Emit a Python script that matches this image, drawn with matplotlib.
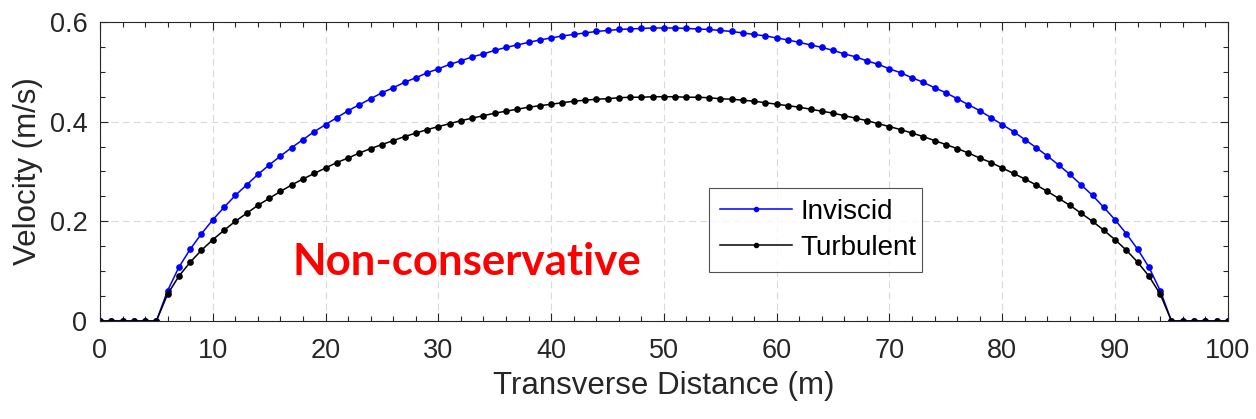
import numpy as np
import matplotlib
matplotlib.use("Agg")
import matplotlib.pyplot as plt
from matplotlib.ticker import MultipleLocator

# --- dados ---
distancia = list(range(0, 101))

inviscid = [
    0, 0, 0, 0, 0, 0,
    0.061, 0.108, 0.144, 0.175, 0.203, 0.228, 0.252, 0.273, 0.294, 0.313,
    0.331, 0.348, 0.364, 0.380, 0.394, 0.408, 0.422, 0.434, 0.446, 0.458,
    0.468, 0.479, 0.488, 0.498, 0.506, 0.515, 0.522, 0.530, 0.536, 0.543,
    0.549, 0.554, 0.559, 0.564, 0.568, 0.572, 0.575, 0.578, 0.581, 0.583,
    0.585, 0.586, 0.587, 0.588, 0.588,
    0.588, 0.587, 0.586, 0.585, 0.583, 0.581, 0.578, 0.575, 0.572, 0.568,
    0.564, 0.559, 0.554, 0.549, 0.543, 0.536, 0.530, 0.522, 0.515, 0.506,
    0.498, 0.488, 0.479, 0.468, 0.458, 0.446, 0.434, 0.422, 0.408, 0.394,
    0.380, 0.364, 0.348, 0.331, 0.313, 0.294, 0.273, 0.252, 0.228, 0.203,
    0.175, 0.144, 0.108, 0.061,
    0, 0, 0, 0, 0, 0,
]

turbulent = [
    0, 0, 0, 0, 0, 0,
    0.054, 0.090, 0.118, 0.142, 0.163, 0.182, 0.200, 0.216, 0.232, 0.246,
    0.260, 0.273, 0.285, 0.296, 0.307, 0.318, 0.327, 0.337, 0.346, 0.354,
    0.362, 0.370, 0.377, 0.384, 0.390, 0.396, 0.402, 0.407, 0.412, 0.417,
    0.421, 0.425, 0.429, 0.432, 0.435, 0.438, 0.441, 0.443, 0.445, 0.446,
    0.448, 0.449, 0.449, 0.450, 0.450,
    0.450, 0.449, 0.449, 0.448, 0.446, 0.445, 0.443, 0.441, 0.438, 0.435,
    0.432, 0.429, 0.425, 0.421, 0.417, 0.412, 0.407, 0.402, 0.396, 0.390,
    0.384, 0.377, 0.370, 0.362, 0.354, 0.346, 0.337, 0.327, 0.318, 0.307,
    0.296, 0.285, 0.273, 0.260, 0.246, 0.232, 0.216, 0.200, 0.182, 0.163,
    0.142, 0.118, 0.090, 0.054,
    0, 0, 0, 0, 0, 0,
]

y_ticks = [0, 0.2, 0.4, 0.6]
y_labels = ["0", "0.2", "0.4", "0.6"]

plt.rcParams['font.family'] = ['Liberation Sans', 'DejaVu Sans']

fig = plt.figure(figsize=(12.56, 4.19), dpi=100)
ax = fig.add_axes([0.0796, 0.234, 0.898, 0.7135])

ax.plot(distancia, inviscid, color='#0000ff', lw=1.1, marker='o', ms=3.8,
        label='Inviscid')
ax.plot(distancia, turbulent, color='black', lw=1.1, marker='o', ms=3.8,
        label='Turbulent')

ax.set_xlim(0, 100)
ax.set_ylim(0, 0.6)
ax.set_xticks(range(0, 101, 10))
ax.set_yticks(y_ticks)
ax.set_yticklabels(y_labels)
ax.xaxis.set_minor_locator(MultipleLocator(2))
ax.yaxis.set_minor_locator(MultipleLocator(0.05))
ax.tick_params(which='both', direction='in', top=True, right=True,
               labelsize=19.5, color='#262626', labelcolor='#262626',
               width=0.8)
ax.tick_params(which='major', length=6)
ax.tick_params(which='minor', length=3.5)
ax.tick_params(axis='x', which='major', pad=12)
ax.tick_params(axis='y', which='major', pad=9)
for s in ax.spines.values():
    s.set_color('#262626')
    s.set_linewidth(0.8)

ax.grid(True, which='major', linestyle=(0, (6, 4)), color='#d9d9d9', lw=0.8)
ax.set_axisbelow(True)

ax.set_xlabel('Transverse Distance (m)', fontsize=22.5, color='#262626',
              labelpad=5)
ax.set_ylabel('Velocity (m/s)', fontsize=22.5, color='#262626', labelpad=5)

ax.text(32.5, 0.118, 'Non-conservative', color='red', fontsize=31.5,
        fontweight='bold', family=['Lato', 'DejaVu Sans'],
        ha='center', va='center')

leg = ax.legend(loc='lower left', bbox_to_anchor=(0.54, 0.164, 0.189, 0.288),
                mode='expand', fontsize=20, frameon=True, fancybox=False,
                borderpad=0.4, handlelength=2.6, handletextpad=0.3,
                labelspacing=0.35, borderaxespad=0)
leg.get_frame().set_edgecolor('#262626')
leg.get_frame().set_linewidth(0.8)
for h in leg.legend_handles:
    h.set_markersize(3)

fig.savefig('out.png', dpi=100)
